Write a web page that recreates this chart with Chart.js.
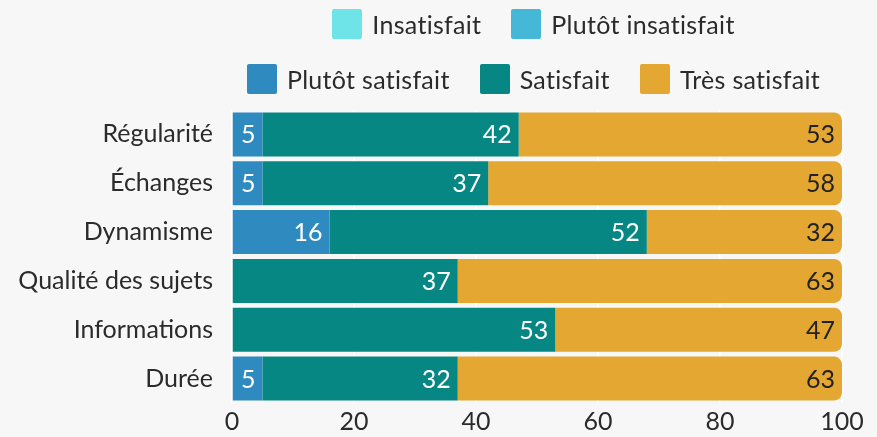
<!DOCTYPE html>
<html><head><meta charset="utf-8">
<script src="https://cdn.jsdelivr.net/npm/chart.js@4.4.1/dist/chart.umd.min.js"></script>
<style>
html,body{margin:0;padding:0;background:#f7f7f7;}
#wrap{position:relative;width:877px;height:437px;overflow:hidden;font-family:Lato, "Noto Sans", sans-serif;color:#2b2b2b;}
#c{position:absolute;left:0;top:0;}
.lrow{position:absolute;left:200px;width:667px;display:flex;justify-content:center;align-items:center;gap:30px;font-size:25px;letter-spacing:0.3px;}
.litem{display:flex;align-items:center;white-space:nowrap;}
.lbox{width:30px;height:30px;margin-right:10px;border-radius:2px;}
</style></head>
<body>
<div id="wrap">
<canvas id="c" width="877" height="437"></canvas>
<div class="lrow" id="row1" style="top:9px;height:30px"></div>
<div class="lrow" id="row2" style="top:64px;height:30px"></div>
</div>
<script>
const categories = ["Régularité", "Échanges", "Dynamisme", "Qualité des sujets", "Informations", "Durée"];
const seriesNames = ["Insatisfait", "Plutôt insatisfait", "Plutôt satisfait", "Satisfait", "Très satisfait"];
const insatisfait = [0, 0, 0, 0, 0, 0];
const plutotInsatisfait = [0, 0, 0, 0, 0, 0];
const plutotSatisfait = [5, 5, 16, 0, 0, 5];
const satisfait = [42, 37, 52, 37, 53, 32];
const tresSatisfait = [53, 58, 32, 63, 47, 63];
const xTicks = [0, 20, 40, 60, 80, 100];

const colors = ["#6ee3e8", "#45b8d8", "#2e8abf", "#078784", "#e4a731"];
const labelColors = ["#ffffff", "#ffffff", "#ffffff", "#ffffff", "#222222"];
const allSeries = [insatisfait, plutotInsatisfait, plutotSatisfait, satisfait, tresSatisfait];
const FONT = "Lato, 'Noto Sans', sans-serif";

// HTML legend
const rows = [[0, 1], [2, 3, 4]];
rows.forEach((r, i) => {
  const el = document.getElementById(i === 0 ? "row1" : "row2");
  r.forEach(k => {
    const it = document.createElement("div");
    it.className = "litem";
    const b = document.createElement("div");
    b.className = "lbox";
    b.style.background = colors[k];
    const t = document.createElement("span");
    t.textContent = seriesNames[k];
    it.appendChild(b); it.appendChild(t);
    el.appendChild(it);
  });
});

const valueLabels = {
  id: "valueLabels",
  afterDatasetsDraw(chart) {
    const ctx = chart.ctx;
    ctx.save();
    ctx.font = "25px " + FONT;
    ctx.textAlign = "right";
    ctx.textBaseline = "middle";
    chart.data.datasets.forEach((ds, di) => {
      const meta = chart.getDatasetMeta(di);
      meta.data.forEach((bar, i) => {
        const v = ds.data[i];
        if (!v) return;
        ctx.fillStyle = labelColors[di];
        ctx.fillText(String(v), bar.x - 7, bar.y + 1);
      });
    });
    ctx.restore();
  }
};

new Chart(document.getElementById("c"), {
  type: "bar",
  data: {
    labels: categories,
    datasets: allSeries.map((d, k) => ({
      label: seriesNames[k],
      data: d,
      backgroundColor: colors[k],
      borderWidth: 0,
      barPercentage: 0.9,
      categoryPercentage: 1,
      borderRadius: k === 4 ? 8 : 0,
      borderSkipped: "start"
    }))
  },
  options: {
    indexAxis: "y",
    responsive: false,
    animation: false,
    layout: { padding: { top: 110, right: 35, bottom: 0, left: 0 } },
    plugins: { legend: { display: false }, tooltip: { enabled: false } },
    scales: {
      x: {
        stacked: true, min: 0, max: 100,
        afterBuildTicks(scale) { scale.ticks = xTicks.map(v => ({ value: v })); },
        ticks: { font: { size: 25, family: FONT }, color: "#2b2b2b", padding: 4 },
        grid: { color: "#ffffff", lineWidth: 1.5, drawTicks: false },
        border: { display: false },
        afterFit(scale) { scale.height = 32; }
      },
      y: {
        stacked: true,
        ticks: { font: { size: 25, family: FONT }, color: "#2b2b2b", padding: 19 },
        grid: { display: false, drawTicks: false },
        border: { display: false },
        afterFit(scale) { scale.width = 232; }
      }
    }
  },
  plugins: [valueLabels]
});
</script>
</body></html>
